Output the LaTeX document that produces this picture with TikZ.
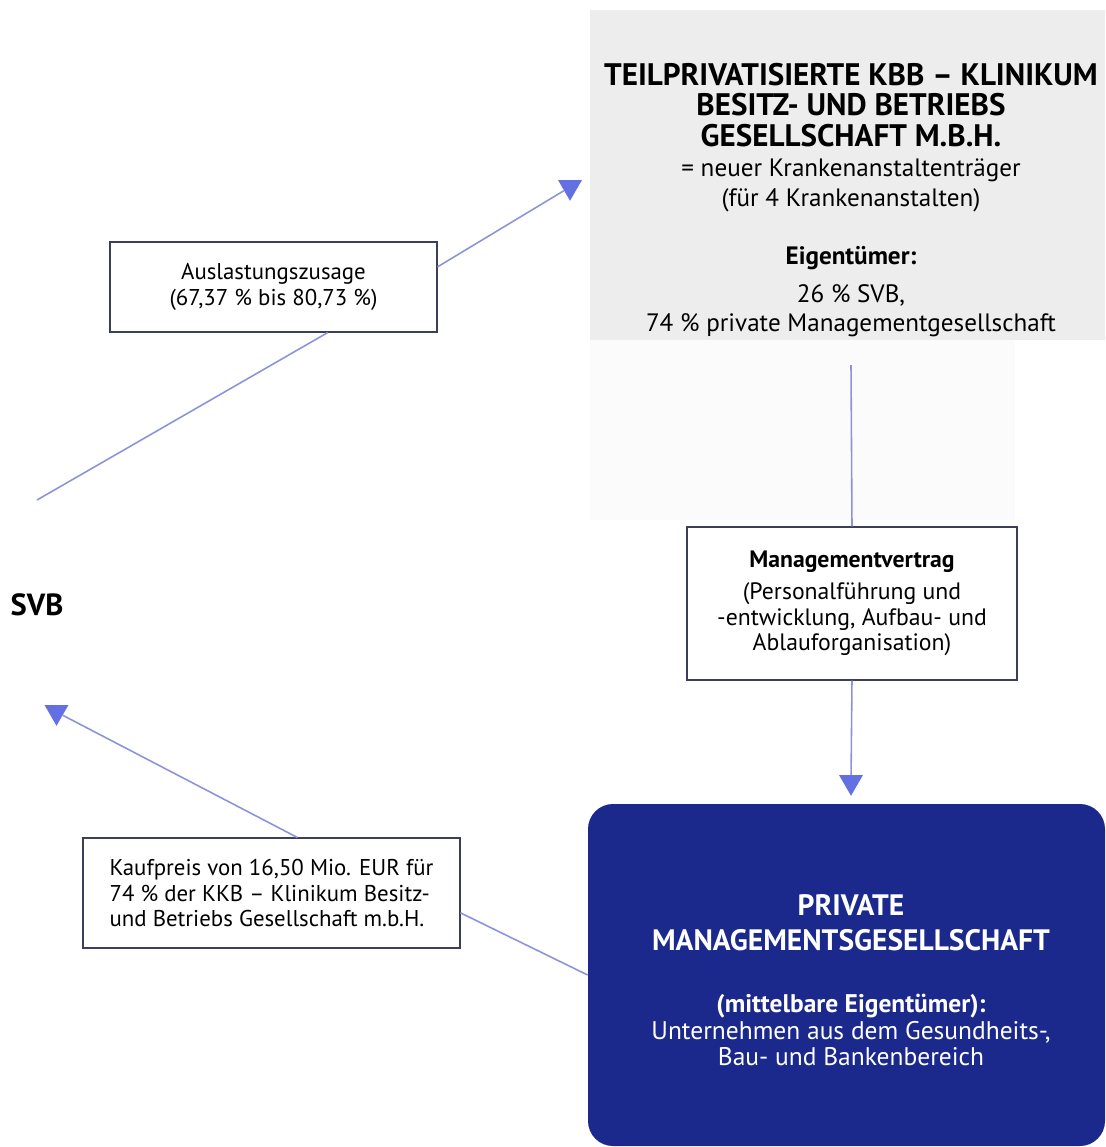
\documentclass[tikz,border=0pt]{standalone}
\usepackage{fontspec}
\setmainfont{PT Sans}
\usetikzlibrary{shapes.geometric}
\definecolor{linie}{RGB}{140,148,215}
\definecolor{pfeil}{RGB}{98,112,228}
\definecolor{dunkelblau}{RGB}{27,40,140}
\definecolor{rahmen}{RGB}{60,62,90}
\begin{document}
\begin{tikzpicture}[
	kasten/.style={draw=rahmen,line width=0.6pt,fill=white,align=center,inner sep=0pt},
	verbinder/.style={draw=linie,line width=0.9pt},
	spitze/.style={regular polygon,regular polygon sides=3,shape border rotate=180,fill=pfeil,minimum size=0.55cm,inner sep=0pt},
	klein/.style={font=\fontsize{13}{14.5}\selectfont}]
	\useasboundingbox (0,0) rectangle (22.1,-22.94);
	% Hintergrund oben rechts
	\fill[black!7] (11.8,-0.2) rectangle (22.1,-6.8);
	\fill[black!1.5] (11.8,-6.8) rectangle (20.3,-10.4);
	\node[font=\bfseries\fontsize{17.7}{17.5}\selectfont,align=center] (titel) at (17.02,-2.1) {TEILPRIVATISIERTE KBB – KLINIKUM\\BESITZ- UND BETRIEBS\\GESELLSCHAFT M.B.H.};
	\node[font=\fontsize{14.3}{17}\selectfont,align=center] (traeger) at (17.02,-3.7) {= neuer Krankenanstaltenträger\\(für 4 Krankenanstalten)};
	\node[font=\bfseries\fontsize{14.3}{17}\selectfont] (eigner) at (17.02,-5.16) {Eigentümer:};
	\node[font=\fontsize{14.3}{16.4}\selectfont,align=center] (anteile) at (17.02,-6.21) {26 \% SVB,\\74 \% private Managementgesellschaft};
	\coordinate (kbbfuss) at (17.02,-7.3);
	% Managementvertrag
	\node[kasten,minimum width=6.6cm,minimum height=3.06cm,font=\fontsize{13.5}{14.5}\selectfont] (vertrag) at (17.04,-12.07) {\textbf{Managementvertrag}\\[4pt](Personalführung und\\-entwicklung, Aufbau- und\\Ablauforganisation)};
	\node[spitze] (tipvertrag) at (17.02,-15.64) {};
	% private Gesellschaft
	\node[fill=dunkelblau,rounded corners=0.5cm,minimum width=10.34cm,minimum height=6.84cm] (privat) at (16.93,-19.5) {};
	\node[text=white,font=\bfseries\fontsize{16.8}{19.8}\selectfont,align=center] (privatname) at (17.02,-18.45) {PRIVATE\\MANAGEMENTSGESELLSCHAFT};
	\node[text=white,font=\fontsize{14.5}{15.3}\selectfont,align=center] (privateigner) at (17.02,-20.6) {\textbf{(mittelbare Eigentümer):}\\Unternehmen aus dem Gesundheits-,\\Bau- und Bankenbereich};
	% Kaufpreis
	\node[kasten,minimum width=7.54cm,minimum height=2.2cm,align=left,klein] (kauf) at (5.43,-17.86) {Kaufpreis von 16,50 Mio. EUR für\\74 \% der KKB – Klinikum Besitz-\\und Betriebs Gesellschaft m.b.H.};
	\node[spitze] (tipkauf) at (1.13,-14.24) {};
	% SVB
	\node[font=\bfseries\fontsize{17.4}{18}\selectfont] (svb) at (0.74,-12.1) {SVB};
	\coordinate (svbauf) at (0.74,-10.0);
	% Auslastungszusage
	\node[kasten,minimum width=6.54cm,minimum height=1.8cm,klein] (zusage) at (5.47,-5.74) {Auslastungszusage\\(67,37 \% bis 80,73 \%)};
	\node[spitze] (tipzusage) at (11.4,-3.74) {};
	% Verbindungen
	\draw[verbinder] (kbbfuss) -- (vertrag.north);
	\draw[verbinder] (vertrag.south) -- (tipvertrag);
	\draw[verbinder] (privat.west) -- (kauf.-6);
	\draw[verbinder] (kauf.65) -- (tipkauf);
	\draw[verbinder] (svbauf) -- (zusage.-40);
	\draw[verbinder] (zusage.7) -- (tipzusage);
\end{tikzpicture}
\end{document}
